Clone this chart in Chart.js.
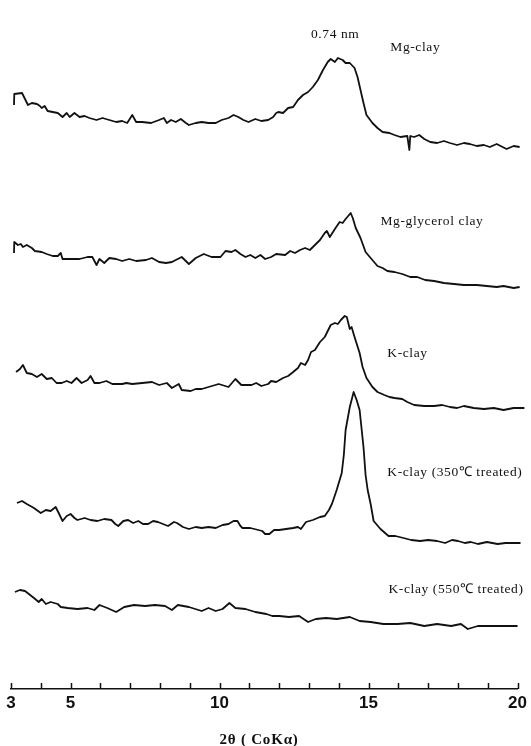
<!DOCTYPE html>
<html>
<head>
<meta charset="utf-8">
<script src="https://cdn.jsdelivr.net/npm/chart.js@4.4.1/dist/chart.umd.min.js"></script>
<style>
  html, body { margin: 0; padding: 0; background: #fff; }
  canvas { display: block; }
</style>
</head>
<body>
<canvas id="xrd" width="531" height="746"></canvas>
<script>
// [2θ, intensity] pairs; intensity is in stacked arbitrary units
const mgClay = [
  [3.10, 584], [3.11, 595], [3.37, 596], [3.57, 584], [3.70, 586], [3.87, 585], [3.97, 583],
  [4.03, 581], [4.13, 583], [4.23, 578], [4.40, 577], [4.57, 576], [4.73, 572], [4.87, 576],
  [4.97, 572], [5.13, 576], [5.30, 572], [5.47, 573], [5.63, 571], [5.87, 569], [6.07, 571],
  [6.30, 569], [6.53, 567], [6.73, 568], [6.90, 566], [7.07, 574], [7.20, 567], [7.40, 567],
  [7.70, 566], [7.97, 569], [8.13, 571], [8.23, 566], [8.37, 569], [8.53, 567], [8.70, 570],
  [8.87, 566], [8.97, 564], [9.20, 566], [9.40, 567], [9.63, 566], [9.87, 566], [10.07, 569],
  [10.30, 571], [10.47, 574], [10.63, 572], [10.80, 569], [10.97, 567], [11.20, 570],
  [11.40, 568], [11.63, 569], [11.80, 572], [11.90, 576], [11.97, 577], [12.13, 576],
  [12.30, 581], [12.47, 582], [12.63, 589], [12.80, 594], [12.97, 597], [13.13, 602],
  [13.30, 609], [13.47, 619], [13.63, 627], [13.73, 630], [13.87, 627], [13.97, 631],
  [14.13, 629], [14.23, 626], [14.37, 626], [14.53, 621], [14.63, 612], [14.73, 599],
  [14.83, 586], [14.93, 574], [15.13, 566], [15.30, 561], [15.47, 557], [15.70, 556],
  [15.87, 554], [16.07, 552], [16.30, 553], [16.37, 539], [16.40, 553], [16.53, 552],
  [16.70, 554], [16.87, 550], [17.07, 547], [17.30, 546], [17.53, 548], [17.73, 546],
  [17.97, 544], [18.20, 546], [18.40, 545], [18.63, 543], [18.87, 544], [19.07, 542],
  [19.30, 545], [19.63, 540], [19.87, 543], [20.07, 542], [20.23, 545]
];

const mgGlycerolClay = [
  [3.10, 436], [3.11, 447], [3.23, 444], [3.33, 445], [3.40, 442], [3.53, 444], [3.70, 441],
  [3.80, 438], [4.03, 437], [4.20, 435], [4.40, 433], [4.57, 433], [4.67, 436], [4.73, 430],
  [4.97, 430], [5.30, 430], [5.57, 432], [5.73, 432], [5.87, 424], [5.97, 430], [6.13, 426],
  [6.30, 431], [6.53, 430], [6.73, 428], [6.97, 430], [7.20, 428], [7.53, 429], [7.73, 431],
  [7.97, 427], [8.20, 426], [8.40, 427], [8.73, 432], [8.97, 425], [9.20, 431], [9.47, 435],
  [9.73, 432], [10.03, 432], [10.20, 438], [10.40, 437], [10.53, 439], [10.70, 435],
  [10.87, 432], [11.03, 434], [11.20, 431], [11.37, 434], [11.53, 430], [11.73, 432],
  [11.90, 435], [12.20, 434], [12.37, 438], [12.53, 436], [12.70, 439], [12.87, 441],
  [13.03, 439], [13.20, 444], [13.37, 449], [13.53, 456], [13.60, 458], [13.70, 452],
  [13.87, 460], [14.03, 467], [14.13, 466], [14.23, 470], [14.40, 476], [14.47, 471],
  [14.57, 461], [14.73, 451], [14.90, 437], [15.07, 431], [15.30, 423], [15.47, 421],
  [15.63, 418], [15.87, 417], [16.13, 415], [16.40, 412], [16.63, 412], [16.90, 409],
  [17.20, 408], [17.53, 406], [17.87, 405], [18.20, 404], [18.63, 404], [18.97, 403],
  [19.30, 402], [19.53, 403], [19.87, 401], [20.07, 402], [20.23, 404]
];

const kClay = [
  [3.17, 317], [3.30, 320], [3.40, 324], [3.53, 316], [3.70, 315], [3.87, 312], [4.03, 315],
  [4.20, 310], [4.37, 311], [4.53, 306], [4.70, 306], [4.87, 308], [5.03, 306], [5.20, 311],
  [5.37, 306], [5.57, 309], [5.67, 313], [5.80, 306], [5.97, 306], [6.20, 308], [6.40, 305],
  [6.73, 305], [6.87, 306], [7.07, 305], [7.40, 306], [7.73, 307], [7.97, 304], [8.23, 306],
  [8.40, 301], [8.63, 305], [8.73, 299], [9.03, 298], [9.20, 300], [9.40, 300], [9.63, 302],
  [9.97, 305], [10.30, 302], [10.53, 310], [10.73, 304], [11.07, 304], [11.23, 306],
  [11.40, 303], [11.63, 305], [11.73, 308], [11.90, 307], [12.13, 311], [12.30, 313],
  [12.47, 317], [12.63, 321], [12.73, 326], [12.87, 324], [12.97, 329], [13.07, 337],
  [13.20, 339], [13.37, 347], [13.53, 352], [13.63, 358], [13.73, 364], [13.87, 366],
  [13.97, 365], [14.07, 369], [14.20, 373], [14.27, 372], [14.37, 360], [14.43, 362],
  [14.53, 352], [14.70, 336], [14.80, 322], [14.93, 311], [15.13, 302], [15.30, 297],
  [15.53, 294], [15.70, 292], [15.87, 291], [16.13, 290], [16.30, 287], [16.53, 284],
  [16.87, 283], [17.20, 283], [17.47, 284], [17.73, 282], [17.97, 281], [18.20, 283],
  [18.53, 281], [18.87, 280], [19.20, 281], [19.53, 279], [19.87, 281], [20.23, 281]
];

const kClay350 = [
  [3.20, 186], [3.37, 188], [3.53, 185], [3.77, 181], [4.00, 176], [4.17, 179], [4.33, 178],
  [4.50, 182], [4.60, 176], [4.73, 168], [4.87, 173], [5.00, 175], [5.13, 171], [5.23, 169],
  [5.47, 171], [5.67, 169], [5.90, 168], [6.13, 170], [6.37, 169], [6.50, 165], [6.60, 163],
  [6.77, 168], [6.93, 169], [7.10, 166], [7.27, 168], [7.43, 165], [7.60, 165], [7.77, 168],
  [7.93, 167], [8.10, 165], [8.27, 163], [8.47, 167], [8.57, 166], [8.77, 162], [8.97, 160],
  [9.20, 162], [9.40, 161], [9.63, 162], [9.87, 161], [10.10, 164], [10.30, 165],
  [10.47, 168], [10.60, 168], [10.70, 163], [10.77, 161], [11.03, 161], [11.30, 159],
  [11.43, 158], [11.53, 155], [11.67, 155], [11.83, 159], [12.00, 159], [12.23, 160],
  [12.47, 161], [12.63, 162], [12.73, 160], [12.90, 167], [13.13, 169], [13.37, 172],
  [13.53, 173], [13.67, 179], [13.77, 185], [13.93, 199], [14.10, 216], [14.17, 234],
  [14.23, 259], [14.37, 282], [14.50, 297], [14.60, 289], [14.70, 279], [14.83, 242],
  [14.90, 214], [14.97, 199], [15.07, 185], [15.17, 168], [15.40, 160], [15.67, 153],
  [15.90, 153], [16.17, 151], [16.43, 149], [16.73, 148], [17.00, 149], [17.30, 148],
  [17.57, 146], [17.80, 149], [18.00, 148], [18.23, 146], [18.43, 147], [18.67, 145],
  [18.97, 147], [19.33, 145], [19.60, 146], [19.90, 146], [20.10, 146], [20.30, 145]
];

const kClay550 = [
  [3.13, 97], [3.30, 99], [3.47, 98], [3.60, 95], [3.77, 91], [3.93, 87], [4.03, 90],
  [4.17, 85], [4.33, 87], [4.57, 85], [4.67, 82], [4.90, 81], [5.23, 80], [5.57, 81],
  [5.80, 79], [5.97, 84], [6.23, 81], [6.53, 77], [6.80, 82], [7.13, 84], [7.50, 83],
  [7.83, 84], [8.17, 83], [8.40, 79], [8.60, 84], [8.97, 82], [9.40, 78], [9.63, 81],
  [9.87, 78], [10.10, 80], [10.33, 86], [10.53, 81], [10.87, 80], [11.20, 77], [11.57, 75],
  [11.77, 73], [12.00, 73], [12.33, 72], [12.67, 73], [12.97, 67], [13.23, 70], [13.57, 71],
  [13.93, 70], [14.37, 72], [14.70, 68], [15.07, 67], [15.50, 65], [15.97, 65], [16.40, 66],
  [16.87, 63], [17.30, 65], [17.77, 63], [18.10, 65], [18.33, 60], [18.67, 63], [19.10, 63],
  [19.57, 63], [20.00, 63]
];

const tickLabels = [3, 5, 10, 15, 20];
const axisTitle = "2θ ( CoKα)";

// text anchors in data units (2θ, intensity)
const traceLabels = [
  { text: "0.74 nm", x: 13.88, y: 655, align: "center" },
  { text: "Mg-clay", x: 15.73, y: 642 },
  { text: "Mg-glycerol clay", x: 15.40, y: 468 },
  { text: "K-clay", x: 15.63, y: 336 },
  { text: "K-clay (350℃ treated)", x: 15.63, y: 217 },
  { text: "K-clay (550℃ treated)", x: 15.67, y: 100 }
];

const ink = "#111";
const traces = [mgClay, mgGlycerolClay, kClay, kClay350, kClay550];

// the scan has its tick marks pointing up into the plot
const insideTicks = {
  id: "insideTicks",
  afterDraw(chart) {
    const xs = chart.scales.x;
    const ctx = chart.ctx;
    const y0 = chart.chartArea.bottom;
    ctx.save();
    ctx.strokeStyle = ink;
    ctx.lineWidth = 1.5;
    xs.ticks.forEach(t => {
      const px = Math.round(xs.getPixelForValue(t.value)) + 0.5;
      ctx.beginPath();
      ctx.moveTo(px, y0);
      ctx.lineTo(px, y0 - 6);
      ctx.stroke();
    });
    ctx.restore();
  }
};

const textLabels = {
  id: "textLabels",
  afterDraw(chart) {
    const { ctx, scales } = chart;
    ctx.save();
    ctx.fillStyle = ink;
    ctx.textBaseline = "middle";
    ctx.font = '13.5px "Liberation Serif", "Times New Roman", serif';
    ctx.letterSpacing = "0.6px";
    traceLabels.forEach(l => {
      ctx.textAlign = l.align || "left";
      ctx.fillText(l.text, scales.x.getPixelForValue(l.x), scales.y.getPixelForValue(l.y));
    });
    ctx.font = 'bold 15px "Liberation Serif", serif';
    ctx.letterSpacing = "0.8px";
    ctx.textAlign = "center";
    ctx.fillText(axisTitle, 259, 740);
    ctx.restore();
  }
};

new Chart(document.getElementById("xrd"), {
  type: "line",
  data: {
    datasets: traces.map(d => ({
      data: d,
      borderColor: ink,
      borderWidth: 1.8,
      borderJoinStyle: "round",
      pointRadius: 0,
      tension: 0,
      fill: false,
      clip: false
    }))
  },
  options: {
    responsive: false,
    animation: false,
    events: [],
    layout: { padding: { left: 11, right: 10, top: 0, bottom: 0 } },
    plugins: {
      legend: { display: false },
      tooltip: { enabled: false }
    },
    scales: {
      x: {
        type: "linear",
        min: 3,
        max: 20,
        grid: { display: false, drawTicks: false },
        border: { display: true, color: ink, width: 1.5 },
        ticks: {
          stepSize: 1,
          autoSkip: false,
          maxRotation: 0,
          padding: 4,
          color: ink,
          font: { family: '"Liberation Sans", Arial, sans-serif', weight: "bold", size: 17 },
          callback: v => tickLabels.includes(v) ? String(v) : ""
        },
        afterFit: s => { s.height = 57; }
      },
      y: { display: false, min: 0, max: 689 }
    }
  },
  plugins: [insideTicks, textLabels]
});
</script>
</body>
</html>
